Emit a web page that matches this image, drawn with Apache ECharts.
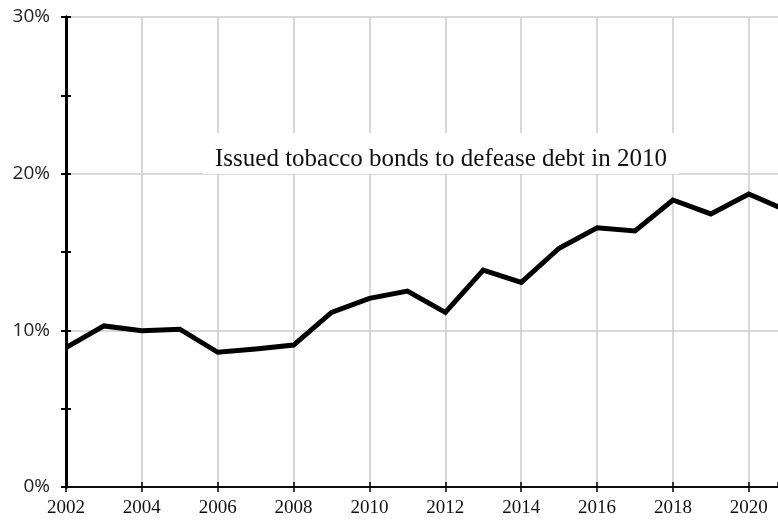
<!DOCTYPE html>
<html>
<head>
<meta charset="utf-8">
<script src="https://cdn.jsdelivr.net/npm/echarts@6/dist/echarts.min.js"></script>
<style>
  html, body { margin: 0; padding: 0; background: #fff; }
  #main { width: 778px; height: 523px; }
</style>
</head>
<body>
<div id="main"></div>
<script>
// share by year, in percent
var years = [2002, 2003, 2004, 2005, 2006, 2007, 2008, 2009, 2010, 2011,
             2012, 2013, 2014, 2015, 2016, 2017, 2018, 2019, 2020, 2021];
var shares = [8.9, 10.28, 9.98, 10.07, 8.6, 8.81, 9.06, 11.15, 12.04, 12.51,
              11.15, 13.85, 13.06, 15.24, 16.55, 16.34, 18.32, 17.43, 18.7, 17.64];
var noteText = 'Issued tobacco bonds to defease debt in 2010';

var myChart = echarts.init(document.getElementById('main'));

var pts = years.map(function (y, i) { return [y, shares[i]]; });

var xBase = {
  type: 'value',
  position: 'bottom',
  min: 2002,
  max: 2020.77,
  interval: 2,
  axisLine: { show: true, onZero: false, lineStyle: { color: '#000', width: 1.5 } },
  axisTick: { show: true, length: 5, lineStyle: { color: '#000', width: 1.5 } }
};
var yBase = {
  type: 'value',
  position: 'left',
  min: 0,
  max: 30,
  interval: 10,
  axisLine: { show: true, lineStyle: { color: '#000', width: 3 } },
  axisTick: { show: true, length: 5, lineStyle: { color: '#000', width: 2 } },
  minorTick: { show: true, splitNumber: 2, length: 5, lineStyle: { color: '#000', width: 2 } }
};

var option = {
  animation: false,
  grid: { left: 66, top: 17, right: 0, bottom: 36 },
  xAxis: [
    Object.assign({}, xBase, {
      axisLabel: {
        color: '#111', fontFamily: 'Liberation Serif', fontSize: 19, margin: 12,
        showMaxLabel: false,
        formatter: function (v) { return v % 1 === 0 ? String(v) : ''; }
      },
      splitLine: { show: true, showMaxLine: false, lineStyle: { color: '#cccccc', width: 1.5 } }
    }),
    Object.assign({}, xBase, {
      axisTick: { show: true, inside: true, length: 5, lineStyle: { color: '#000', width: 1.5 } },
      axisLabel: { show: false },
      splitLine: { show: false }
    })
  ],
  yAxis: [
    Object.assign({}, yBase, {
      axisLabel: {
        color: '#222', fontFamily: 'Open Sans', fontSize: 19, margin: 16,
        formatter: '{value}%'
      },
      splitLine: { show: true, lineStyle: { color: '#cccccc', width: 1.5 } }
    }),
    Object.assign({}, yBase, {
      axisTick: { show: true, inside: true, length: 5, lineStyle: { color: '#000', width: 2 } },
      axisLabel: { show: false },
      splitLine: { show: false }
    })
  ],
  series: [{
    type: 'line',
    data: pts,
    symbol: 'none',
    lineStyle: { color: '#000', width: 5, join: 'miter' },
    z: 3
  }],
  graphic: [{
    type: 'text',
    left: 203,
    top: 133,
    z: 10,
    style: {
      text: noteText,
      fill: '#111',
      font: '25px "Liberation Serif"',
      backgroundColor: '#fff',
      padding: [14, 12, 2, 12]
    }
  }]
};

myChart.setOption(option);
</script>
</body>
</html>
